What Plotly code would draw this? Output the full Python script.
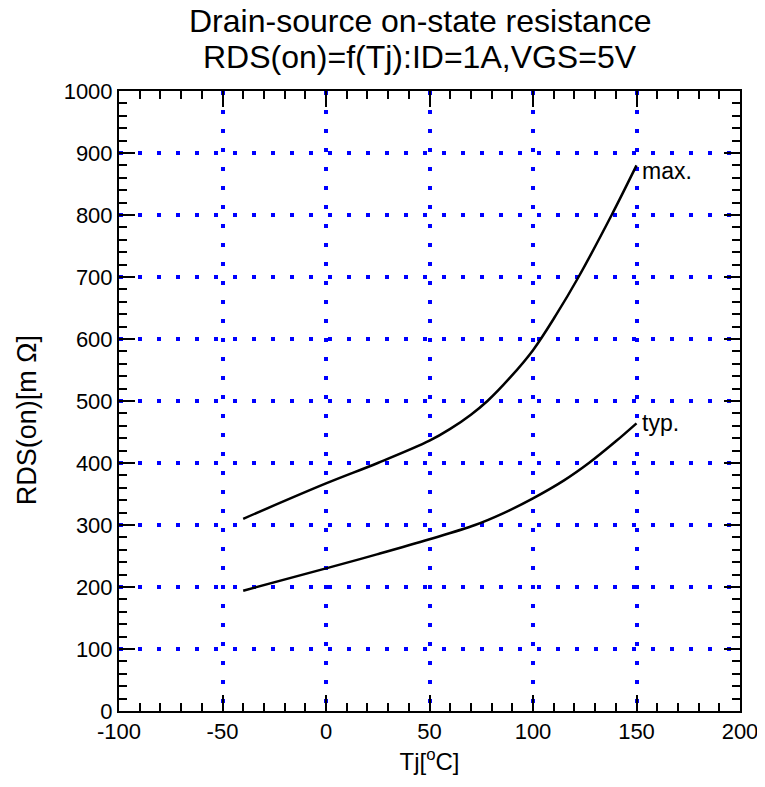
import plotly.graph_objects as go

# Data
tj_max = [-40, 0, 25, 50, 60, 70, 78, 89, 100, 111, 122, 138, 150]
rds_max = [310, 367, 400, 436, 455, 478, 500, 538, 582, 638, 700, 800, 880]

tj_typ = [-40, 0, 25, 50, 72, 85, 100, 115, 127, 140, 150]
rds_typ = [194, 230, 253, 277, 300, 318, 343, 372, 400, 435, 464]

x_ticks = [-100, -50, 0, 50, 100, 150, 200]
y_ticks = [0, 100, 200, 300, 400, 500, 600, 700, 800, 900, 1000]

title_lines = ["Drain-source on-state resistance", "RDS(on)=f(Tj):ID=1A,VGS=5V"]
x_title = "Tj[<sup>o</sup>C]"
y_title = "RDS(on)[m Ω]"

FONT = "Liberation Sans, Arial, sans-serif"

fig = go.Figure()
fig.add_trace(go.Scatter(x=tj_max, y=rds_max, mode="lines",
                         line=dict(color="black", width=2.5, shape="spline", smoothing=1),
                         showlegend=False))
fig.add_trace(go.Scatter(x=tj_typ, y=rds_typ, mode="lines",
                         line=dict(color="black", width=2.5, shape="spline", smoothing=1),
                         showlegend=False))

fig.add_annotation(x=tj_max[-1], y=rds_max[-1], text="max.", showarrow=False,
                   xanchor="left", yanchor="middle", xshift=3, yshift=-6,
                   font=dict(size=23, color="black", family=FONT))
fig.add_annotation(x=tj_typ[-1], y=rds_typ[-1], text="typ.", showarrow=False,
                   xanchor="left", yanchor="middle", xshift=3, yshift=0,
                   font=dict(size=23, color="black", family=FONT))

# Two-line title as separate annotations for exact line spacing
for i, line in enumerate(title_lines):
    fig.add_annotation(x=0.484, y=1, xref="paper", yref="paper", text=line,
                       showarrow=False, xanchor="center", yanchor="middle",
                       yshift=70 - 36 * i,
                       font=dict(size=32, color="black", family=FONT))

# Y-axis title (placed like the reference, slightly below the plot centre)
fig.add_annotation(x=0, y=0.469, xref="paper", yref="paper", text=y_title,
                   showarrow=False, textangle=-90, xanchor="center", yanchor="middle",
                   xshift=-92, font=dict(size=27, color="black", family=FONT))

fig.update_layout(
    width=757, height=779,
    margin=dict(l=111, r=25, t=83, b=76, autoexpand=False),
    paper_bgcolor="white", plot_bgcolor="white",
    font=dict(family=FONT, color="black"),
    xaxis=dict(
        range=[-100, 200], tickvals=x_ticks, ticktext=[str(v) for v in x_ticks],
        showline=True, linecolor="black", linewidth=2, mirror="ticks",
        ticks="inside", ticklen=16, tickwidth=2, tickcolor="black",
        minor=dict(dtick=10, ticks="inside", ticklen=8, tickwidth=2, tickcolor="black", showgrid=False),
        showgrid=True, gridcolor="blue", gridwidth=3.5, griddash="4px,15px",
        zeroline=False, ticklabeloverflow="allow", automargin=False,
        tickfont=dict(size=22, family=FONT, color="black"),
        title=dict(text=x_title, font=dict(size=24, family=FONT, color="black"), standoff=10),
    ),
    yaxis=dict(
        range=[0, 1000], tickvals=y_ticks, ticktext=[str(v) for v in y_ticks],
        showline=True, linecolor="black", linewidth=2, mirror="ticks",
        ticks="inside", ticklen=16, tickwidth=2, tickcolor="black",
        minor=dict(dtick=20, ticks="inside", ticklen=8, tickwidth=2, tickcolor="black", showgrid=False),
        showgrid=True, gridcolor="blue", gridwidth=3.5, griddash="4px,15px",
        zeroline=False, automargin=False,
        tickfont=dict(size=22, family=FONT, color="black"),
    ),
)

fig.write_html("out.html")
